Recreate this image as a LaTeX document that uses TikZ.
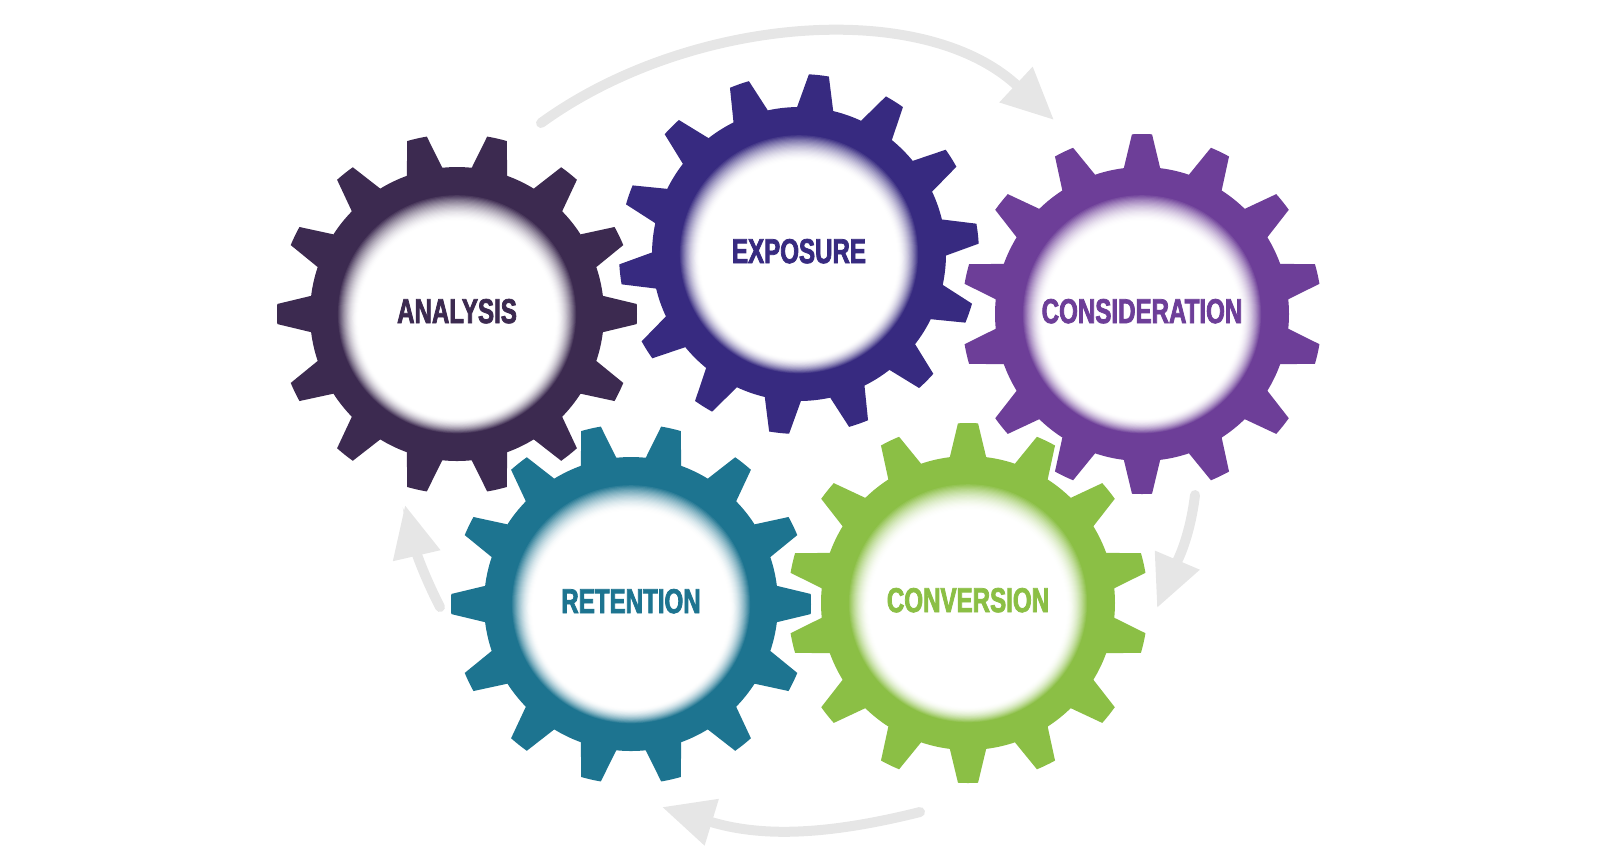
\documentclass[tikz,border=0pt]{standalone}
\usepackage{fontspec}
\usetikzlibrary{arrows.meta}
\newfontfamily\gearfont[FakeStretch=0.70, FakeBold=2.2]{Liberation Sans}

\definecolor{analysiscol}{HTML}{3C2A50}
\definecolor{exposurecol}{HTML}{372A80}
\definecolor{considercol}{HTML}{6D3E98}
\definecolor{retentioncol}{HTML}{1D7490}
\definecolor{conversioncol}{HTML}{8BBF45}
\definecolor{arrowgray}{HTML}{E6E6E6}

\begin{document}
\begin{tikzpicture}[x=0.01cm, y=0.01cm,
  loop arrow/.style={arrowgray, line width=1mm, line cap=round, -{Triangle[length=5.2mm, width=4.6mm]}},
  gear label/.style={font=\gearfont\bfseries\fontsize{9.8}{11}\selectfont, text=gearcol}]
\useasboundingbox (0,0) rectangle (1600,-859);

% Cycle arrows
\coordinate (top start) at (541,-123);
\coordinate (top end) at (1054,-120);
\coordinate (right start) at (1195,-495);
\coordinate (right end) at (1157,-608);
\coordinate (bottom start) at (920,-812);
\coordinate (bottom end) at (662,-807);
\coordinate (left start) at (440,-607);
\coordinate (left end) at (405,-505);

\draw[loop arrow] (top start) to[out=36, in=137, looseness=0.9] (top end);
\draw[loop arrow] (right start) to[out=-97, in=67] (right end);
\draw[loop arrow] (bottom start) to[out=194, in=-17] (bottom end);
\draw[loop arrow] (left start) to[out=117, in=-77] (left end);

% Gears
\foreach \name/\cx/\cy/\rot/\col/\txt in {
    analysis/457/-314/0/analysiscol/ANALYSIS,
    exposure/799/-254/6.5/exposurecol/EXPOSURE,
    consideration/1142/-314/12.86/considercol/CONSIDERATION,
    retention/631/-604/0/retentioncol/RETENTION,
    conversion/968/-603/12.86/conversioncol/CONVERSION}{
  \colorlet{gearcol}{\col}
  \fill[gearcol, shift={(\cx,\cy)}, rotate=\rot] (-7.1:147)
    \foreach \i in {0,...,13}{
      -- ({\i*360/14-3.2}:180) arc[start angle={\i*360/14-3.2}, end angle={\i*360/14+3.2}, radius=180]
      -- ({\i*360/14+7.1}:147) arc[start angle={\i*360/14+7.1}, end angle={(\i+1)*360/14-7.1}, radius=147]
    } -- cycle;
  % hub fading from the gear colour to white
  \foreach \k [evaluate=\k as \p using {100*(1-\k/22)^1.8},
               evaluate=\k as \r using {120-0.95*\k}] in {0,...,22}
    \fill[gearcol!\p!white] (\cx,\cy-0.25*\k) circle (\r);
  \node[gear label] (\name) at (\cx,\cy) [yshift=0.8pt] {\txt};
}
\end{tikzpicture}
\end{document}
